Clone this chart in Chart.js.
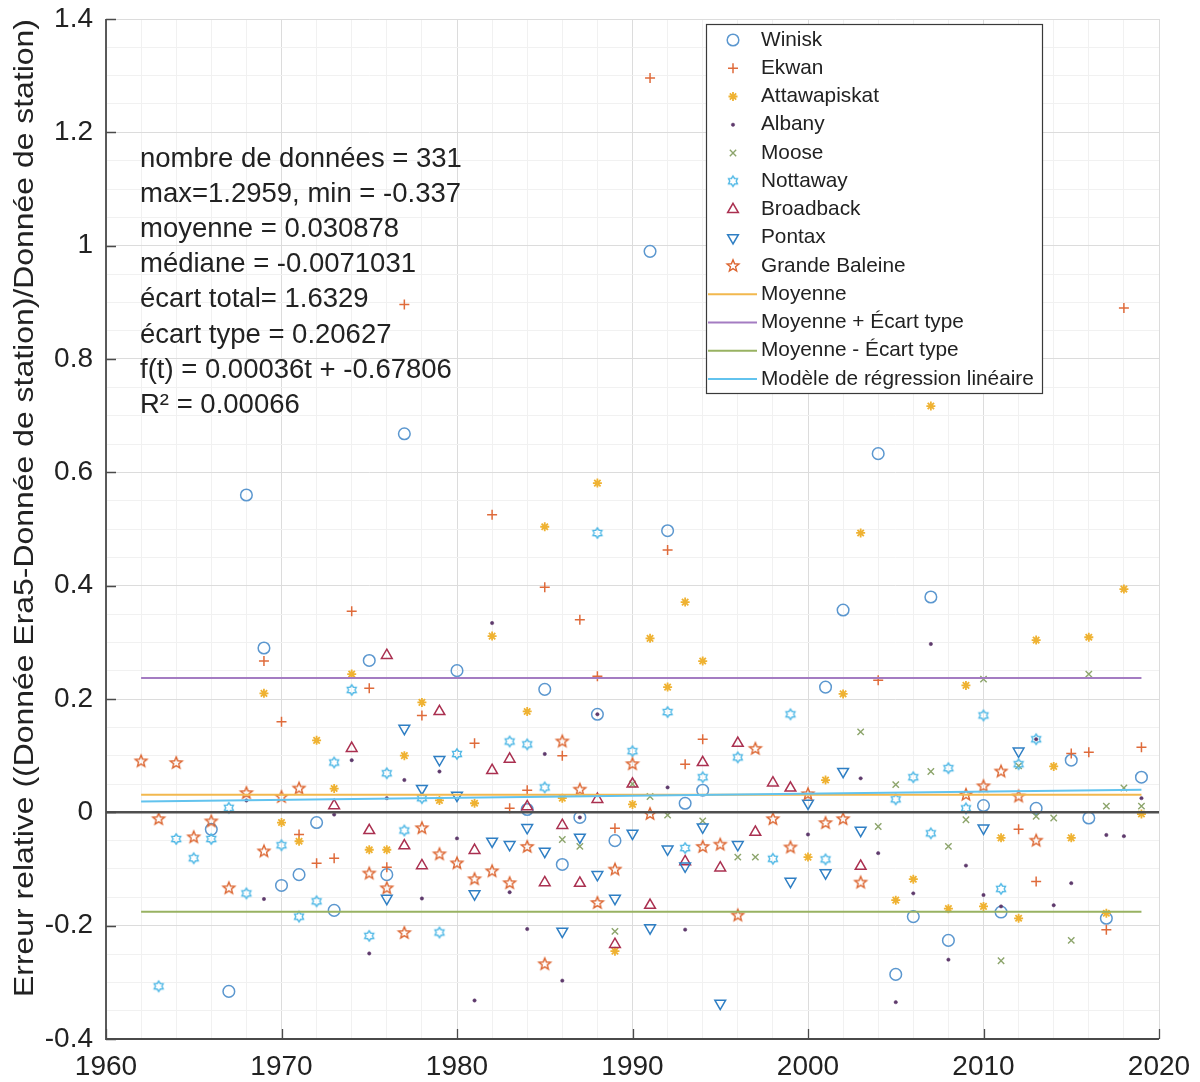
<!DOCTYPE html>
<html>
<head>
<meta charset="utf-8">
<script src="https://cdn.jsdelivr.net/npm/chart.js@4.4.1/dist/chart.umd.min.js"></script>
<style>
  body { margin: 0; background: #fff; }
  #wrap { width: 1200px; height: 1082px; }
</style>
</head>
<body>
<div id="wrap"><canvas id="chart" width="1200" height="1082"></canvas></div>
<script>
// ---------- DATA (year, relative error) ----------
const winisk = [[1966,-0.03],[1967,-0.316],[1968,0.56],[1969,0.29],[1970,-0.129],[1971,-0.11],[1972,-0.018],[1973,-0.173],
  [1975,0.268],[1976,-0.11],[1977,0.668],[1980,0.25],[1984,0.005],[1985,0.217],[1986,-0.092],[1987,-0.009],[1988,0.173],
  [1989,-0.05],[1991,0.99],[1992,0.497],[1993,0.016],[1994,0.039],[2001,0.221],[2002,0.357],[2004,0.633],[2005,-0.286],
  [2006,-0.184],[2007,0.38],[2008,-0.226],[2010,0.012],[2011,-0.176],[2013,0.007],[2015,0.092],[2016,-0.01],[2017,-0.187],[2019,0.062]];
const ekwan = [[1969,0.267],[1970,0.16],[1971,-0.039],[1972,-0.09],[1973,-0.081],[1974,0.355],[1975,0.219],[1976,-0.097],
  [1977,0.896],[1978,0.171],[1981,0.122],[1982,0.525],[1983,0.007],[1984,0.039],[1985,0.397],[1986,0.1],[1987,0.34],
  [1988,0.24],[1989,-0.028],[1991,1.296],[1992,0.463],[1993,0.085],[1994,0.129],[2004,0.233],[2012,-0.03],[2013,-0.122],
  [2015,0.104],[2016,0.106],[2017,-0.207],[2018,0.89],[2019,0.115]];
const attawapiskat = [[1969,0.21],[1970,-0.018],[1971,-0.051],[1972,0.127],[1973,0.042],[1974,0.244],[1975,-0.066],[1976,-0.066],
  [1977,0.1],[1978,0.194],[1979,0.021],[1981,0.016],[1982,0.311],[1984,0.178],[1985,0.504],[1986,0.025],[1988,0.581],
  [1989,-0.245],[1990,0.014],[1991,0.307],[1992,0.221],[1993,0.371],[1994,0.267],[2000,-0.079],[2001,0.057],[2002,0.209],
  [2003,0.493],[2005,-0.155],[2006,-0.118],[2007,0.717],[2008,-0.17],[2009,0.224],[2010,-0.166],[2011,-0.045],[2012,-0.187],
  [2013,0.304],[2014,0.081],[2015,-0.045],[2016,0.309],[2017,-0.178],[2018,0.394],[2019,-0.003]];
const albany = [[1968,0.021],[1969,-0.153],[1973,-0.004],[1974,0.092],[1975,-0.249],[1976,0.025],[1977,0.057],[1978,-0.152],
  [1979,0.072],[1980,-0.046],[1981,-0.332],[1982,0.334],[1983,-0.141],[1984,-0.206],[1985,0.103],[1986,-0.297],[1987,-0.009],
  [1988,0.173],[1992,0.044],[1993,-0.207],[2000,-0.039],[2003,0.06],[2004,-0.072],[2005,-0.335],[2006,-0.143],[2007,0.297],
  [2008,-0.26],[2009,-0.094],[2010,-0.146],[2011,-0.166],[2013,0.129],[2014,-0.164],[2015,-0.125],[2017,-0.04],[2018,-0.042],[2019,0.025]];
const moose = [[1986,-0.048],[1987,-0.06],[1989,-0.21],[1990,0.05],[1991,0.028],[1992,-0.005],[1994,-0.015],[1996,-0.079],
  [1997,-0.079],[2003,0.142],[2004,-0.025],[2005,0.049],[2007,0.072],[2008,-0.06],[2009,-0.013],[2010,0.235],[2011,-0.262],
  [2012,0.082],[2013,-0.007],[2014,-0.01],[2015,-0.226],[2016,0.244],[2017,0.011],[2018,0.043],[2019,0.011]];
const nottaway = [[1963,-0.307],[1964,-0.047],[1965,-0.081],[1966,-0.047],[1967,0.008],[1968,-0.143],[1970,-0.058],[1971,-0.184],
  [1972,-0.157],[1973,0.088],[1974,0.216],[1975,-0.218],[1976,0.069],[1977,-0.032],[1978,0.025],[1979,-0.212],[1980,0.103],
  [1983,0.125],[1984,0.12],[1985,0.044],[1988,0.493],[1990,0.108],[1992,0.177],[1993,-0.063],[1994,0.062],[1996,0.097],
  [1998,-0.082],[1999,0.173],[2001,-0.083],[2005,0.023],[2006,0.062],[2007,-0.037],[2008,0.078],[2009,0.007],[2010,0.171],
  [2011,-0.135],[2012,0.085],[2013,0.129]];
const broadback = [[1973,0.012],[1974,0.113],[1975,-0.032],[1976,0.277],[1977,-0.059],[1978,-0.094],[1979,0.178],[1981,-0.067],
  [1982,0.074],[1983,0.094],[1984,0.01],[1985,-0.124],[1986,-0.023],[1987,-0.125],[1988,0.023],[1989,-0.233],[1990,0.05],
  [1991,-0.164],[1993,-0.087],[1994,0.088],[1995,-0.098],[1996,0.122],[1997,-0.035],[1998,0.052],[1999,0.043],[2003,-0.095]];
const pontax = [[1976,-0.152],[1977,0.148],[1978,0.042],[1979,0.093],[1980,0.03],[1981,-0.144],[1982,-0.051],[1983,-0.057],
  [1984,-0.027],[1985,-0.069],[1986,-0.21],[1987,-0.044],[1988,-0.11],[1989,-0.152],[1990,-0.037],[1991,-0.204],[1992,-0.065],
  [1993,-0.095],[1994,-0.026],[1995,-0.337],[1996,-0.057],[1999,-0.122],[2000,0.016],[2001,-0.107],[2002,0.072],[2003,-0.032],
  [2010,-0.028],[2012,0.108]];
const grandeBaleine = [[1962,0.09],[1963,-0.012],[1964,0.087],[1965,-0.044],[1966,-0.016],[1967,-0.134],[1968,0.034],[1969,-0.069],
  [1970,0.027],[1971,0.042],[1975,-0.108],[1976,-0.134],[1977,-0.213],[1978,-0.028],[1979,-0.074],[1980,-0.09],[1981,-0.118],
  [1982,-0.104],[1983,-0.125],[1984,-0.061],[1985,-0.268],[1986,0.125],[1987,0.04],[1988,-0.16],[1989,-0.101],[1990,0.085],
  [1991,-0.003],[1994,-0.061],[1995,-0.057],[1996,-0.182],[1997,0.112],[1998,-0.012],[1999,-0.062],[2000,0.032],[2001,-0.019],
  [2002,-0.012],[2003,-0.124],[2009,0.031],[2010,0.046],[2011,0.072],[2012,0.028],[2013,-0.05]];

// horizontal reference lines
const lineYears = [1962, 2019];
const meanValue = 0.030878;
const stdValue = 0.20627;
const regressionValues = [0.019, 0.040];   // read at 1962 and 2019
const zeroYears = [1960, 2020];

const xTicks = [1960, 1970, 1980, 1990, 2000, 2010, 2020];
const yTicks = [-0.4, -0.2, 0, 0.2, 0.4, 0.6, 0.8, 1, 1.2, 1.4];

const statsLines = [
  "nombre de données = 331",
  "max=1.2959, min = -0.337",
  "moyenne = 0.030878",
  "médiane = -0.0071031",
  "écart total= 1.6329",
  "écart type = 0.20627",
  "f(t) = 0.00036t + -0.67806",
  "R² = 0.00066"
];
const yTitle = "Erreur relative ((Donnée Era5-Donnée de station)/Donnée de station)";

// ---------- MARKERS ----------
const FONT = "'Liberation Sans', Arial, Helvetica, sans-serif";
const TEXT = "#222";

function starImage(color, points, rOut, rIn, lw) {
  const s = Math.ceil(rOut * 2 + lw * 2 + 2);
  const c = document.createElement("canvas");
  c.width = c.height = s;
  const g = c.getContext("2d");
  g.strokeStyle = color;
  g.lineWidth = lw;
  g.beginPath();
  for (let i = 0; i < points * 2; i++) {
    const r = i % 2 ? rIn : rOut;
    const ang = -Math.PI / 2 + i * Math.PI / points;
    const px = s / 2 + r * Math.cos(ang), py = s / 2 + r * Math.sin(ang);
    if (i) g.lineTo(px, py); else g.moveTo(px, py);
  }
  g.closePath();
  g.stroke();
  return c;
}

const toXY = arr => arr.map(([x, y]) => ({ x, y }));

function station(label, arr, color, style, radius, extra) {
  return Object.assign({
    type: "scatter",
    label,
    data: toXY(arr),
    pointStyle: style,
    pointRadius: radius,
    pointBorderColor: color,
    pointBackgroundColor: "rgba(0,0,0,0)",
    pointBorderWidth: 1.5,
    pointRotation: 0,
    showLine: false
  }, extra || {});
}

function hline(label, xs, ys, color, width) {
  return {
    type: "line",
    label,
    data: xs.map((x, i) => ({ x, y: ys[i] })),
    borderColor: color,
    borderWidth: width,
    pointRadius: 0,
    fill: false,
    tension: 0
  };
}

const stations = [
  station("Winisk", winisk, "#5b97cf", "circle", 5.8),
  station("Ekwan", ekwan, "#df6b3b", "cross", 5),
  station("Attawapiskat", attawapiskat, "#efb232", "star", 4.5, { pointBorderWidth: 1.8 }),
  station("Albany", albany, "#5e3a6c", "circle", 1.7, { pointBackgroundColor: "#5e3a6c", pointBorderWidth: 0.5 }),
  station("Moose", moose, "#8da56c", "crossRot", 4.5, { pointBorderWidth: 1.4 }),
  station("Nottaway", nottaway, "#52b9e6", starImage("#52b9e6", 6, 5.2, 3.2, 1.4), 5),
  station("Broadback", broadback, "#aa3050", "triangle", 6.2),
  station("Pontax", pontax, "#2f7fc4", "triangle", 6.2, { pointRotation: 180 }),
  station("Grande Baleine", grandeBaleine, "#dc6530", starImage("#dc6530", 5, 6.2, 2.7, 1.4), 5.5)
];
stations.forEach((d, i) => { d.order = 100 - i; });

const lines = [
  hline("Moyenne", lineYears, [meanValue, meanValue], "#f2b84e", 2),
  hline("Moyenne + Écart type", lineYears, [meanValue + stdValue, meanValue + stdValue], "#a47cc2", 2),
  hline("Moyenne - Écart type", lineYears, [meanValue - stdValue, meanValue - stdValue], "#98b262", 2),
  hline("Modèle de régression linéaire", lineYears, regressionValues, "#62c3ee", 2)
];
lines.forEach((d, i) => { d.order = 10 - i; });

const zeroLine = hline("zero", zeroYears, [0, 0], "#4f4f4f", 2.5);
zeroLine.order = 1;

// ---------- OVERLAY: axes, ticks, title, stats, legend ----------
function drawMarker(ctx, ds, x, y) {
  ctx.fillStyle = ds.pointBackgroundColor;
  ctx.strokeStyle = ds.pointBorderColor;
  ctx.lineWidth = ds.pointBorderWidth;
  Chart.helpers.drawPoint(ctx, {
    pointStyle: ds.pointStyle,
    rotation: ds.pointRotation,
    radius: ds.pointRadius,
    borderWidth: ds.pointBorderWidth
  }, x, y);
}

const overlay = {
  id: "overlay",
  afterDatasetsDraw(chart) {
    const { ctx, chartArea: a, scales: { x, y } } = chart;
    ctx.save();

    // axes lines + inward ticks
    ctx.strokeStyle = "#4a4a4a";
    ctx.lineWidth = 1.8;
    ctx.beginPath();
    ctx.moveTo(a.left, a.top);
    ctx.lineTo(a.left, a.bottom);
    ctx.lineTo(a.right, a.bottom);
    ctx.stroke();
    ctx.lineWidth = 1.3;
    ctx.beginPath();
    yTicks.forEach(v => {
      const py = Math.round(y.getPixelForValue(v)) + 0.5;
      ctx.moveTo(a.left, py); ctx.lineTo(a.left + 10, py);
    });
    xTicks.forEach(v => {
      const px = Math.round(x.getPixelForValue(v)) + 0.5;
      ctx.moveTo(px, a.bottom); ctx.lineTo(px, a.bottom - 10);
    });
    ctx.stroke();

    // y axis title, stretched along its baseline to the reference length
    ctx.fillStyle = TEXT;
    ctx.font = "28px " + FONT;
    const tw = ctx.measureText(yTitle).width;
    ctx.save();
    ctx.translate(25, 508);
    ctx.rotate(-Math.PI / 2);
    ctx.scale(978 / tw, 1);
    ctx.textAlign = "center";
    ctx.textBaseline = "middle";
    ctx.fillText(yTitle, 0, 0);
    ctx.restore();

    // stats text
    ctx.textAlign = "left";
    ctx.textBaseline = "middle";
    ctx.font = "27.5px " + FONT;
    statsLines.forEach((t, i) => ctx.fillText(t, 140, 159 + i * 35.2));

    // legend box
    const lx = 706, ly = 24, lw = 336, lh = 369;
    ctx.fillStyle = "#fff";
    ctx.fillRect(lx, ly, lw, lh);
    ctx.strokeStyle = "#3a3a3a";
    ctx.lineWidth = 1.2;
    ctx.strokeRect(lx + 0.5, ly + 0.5, lw, lh);
    ctx.font = "20.8px " + FONT;
    const entries = stations.concat(lines);
    entries.forEach((ds, i) => {
      const ry = 40 + i * 28.25;
      if (ds.type === "line") {
        ctx.strokeStyle = ds.borderColor;
        ctx.lineWidth = ds.borderWidth;
        ctx.beginPath();
        ctx.moveTo(lx + 2, ry); ctx.lineTo(lx + 51, ry);
        ctx.stroke();
      } else {
        drawMarker(ctx, ds, 733, ry);
      }
      ctx.fillStyle = TEXT;
      ctx.fillText(ds.label, 761, ry);
    });

    ctx.restore();
  }
};

// ---------- CHART ----------
const isMajorY = v => Math.round(v * 100) % 20 === 0;
const isMajorX = v => Math.round(v) % 10 === 0;

new Chart(document.getElementById("chart"), {
  type: "scatter",
  data: { datasets: stations.concat(lines, [zeroLine]) },
  options: {
    responsive: false,
    animation: false,
    devicePixelRatio: 1,
    layout: { padding: { top: 19, right: 41, left: 0, bottom: 0 } },
    plugins: { legend: { display: false }, tooltip: { enabled: false } },
    scales: {
      x: {
        type: "linear",
        min: 1960, max: 2020,
        border: { display: false },
        grid: {
          drawTicks: false,
          lineWidth: 1,
          color: c => (c.tick && isMajorX(c.tick.value)) ? "#dcdcdc" : "#f1f1f1"
        },
        ticks: {
          stepSize: 2,
          autoSkip: false,
          maxRotation: 0,
          padding: 11,
          color: TEXT,
          font: { family: FONT, size: 28 },
          callback: v => isMajorX(v) ? String(Math.round(v)) : ""
        },
        afterFit: s => { s.height = 43; s.paddingLeft = 0; s.paddingRight = 0; }
      },
      y: {
        type: "linear",
        min: -0.4, max: 1.4,
        border: { display: false },
        grid: {
          drawTicks: false,
          lineWidth: 1,
          color: c => (c.tick && isMajorY(c.tick.value)) ? "#dcdcdc" : "#f1f1f1"
        },
        ticks: {
          stepSize: 0.05,
          autoSkip: false,
          padding: 13,
          color: TEXT,
          font: { family: FONT, size: 28 },
          callback: v => isMajorY(v) ? String(Math.round(v * 100) / 100) : ""
        },
        afterFit: s => { s.width = 106; s.paddingTop = 0; s.paddingBottom = 0; }
      }
    }
  },
  plugins: [overlay]
});
</script>
</body>
</html>
